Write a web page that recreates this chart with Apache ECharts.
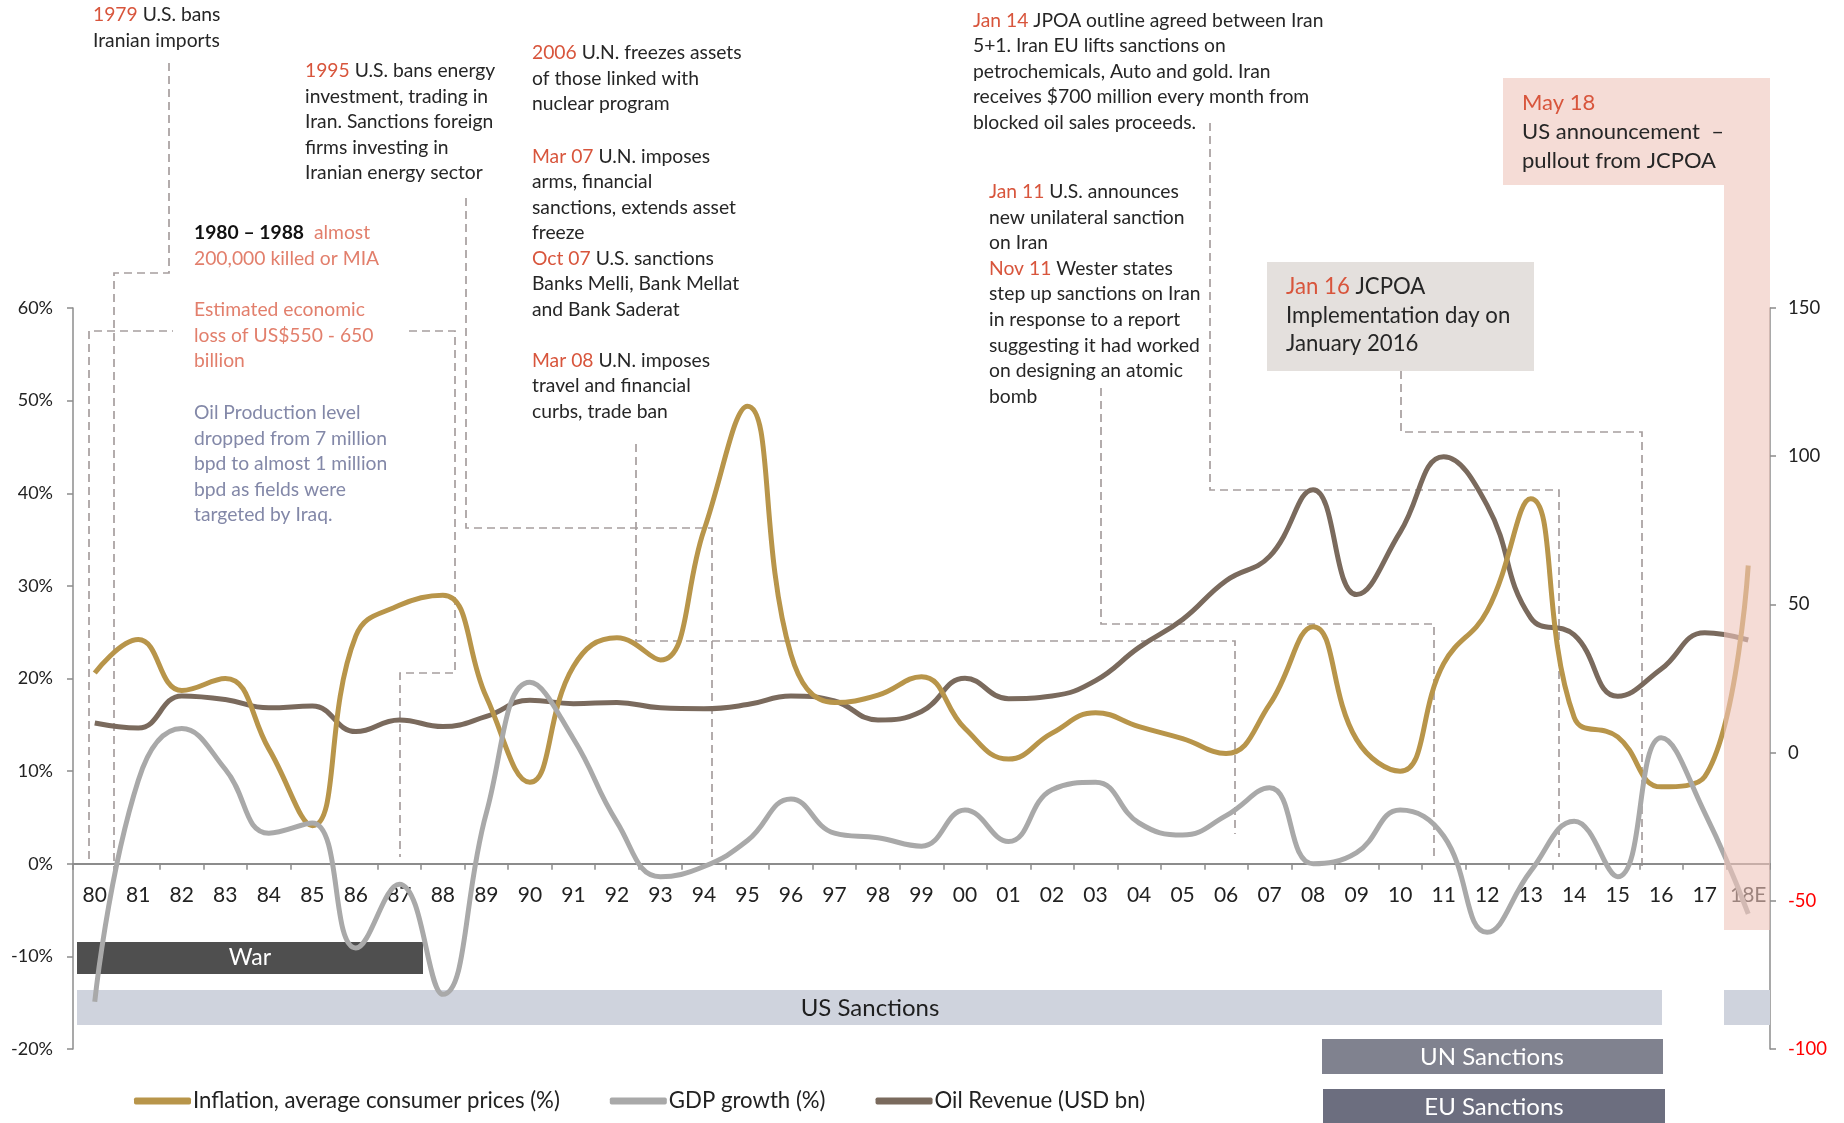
<!DOCTYPE html>
<html><head><meta charset="utf-8">
<script src="https://cdn.jsdelivr.net/npm/echarts@6/dist/echarts.min.js"></script>
<style>html,body{margin:0;padding:0;background:#fff}#c{width:1844px;height:1123px}</style>
</head><body><div id="c"></div>
<script>
// ---- data ----
const categories = ['80','81','82','83','84','85','86','87','88','89','90','91','92','93','94','95','96','97','98','99',
  '00','01','02','03','04','05','06','07','08','09','10','11','12','13','14','15','16','17','18E'];
const inflation = [20.6,24.2,18.7,20.0,12.4,4.1,24.6,27.9,29.0,18.0,
  8.8,21.3,24.4,22.0,36.0,49.4,22.6,17.4,18.2,20.2,
  14.6,11.3,14.1,16.3,14.8,13.5,11.9,17.2,25.6,13.4,
  10.0,21.6,27.3,39.4,15.8,13.7,8.3,9.4,32.2];
const gdpGrowth = [-14.9,9.0,14.6,10.2,3.3,4.4,-9.1,-2.2,-14.1,5.5,
  19.6,13.5,4.5,-1.4,-0.3,2.5,7.0,3.3,2.8,1.9,
  5.8,2.4,8.0,8.8,4.4,3.1,5.2,8.2,0.0,1.2,
  5.8,3.0,-7.4,-0.8,4.6,-1.4,13.6,5.5,-5.4];
const oilRevenue = [10.0,8.3,19.1,17.9,15.1,15.7,7.1,11.0,8.8,12.2,
  17.7,16.5,16.9,15.1,14.8,16.2,19.1,17.4,11.0,13.9,
  25.1,18.2,19.1,24.3,35.5,44.9,58.0,66.2,88.7,53.3,
  74.4,99.8,83.4,45.5,39.7,19.0,28.2,40.4,38.0];
const leftAxisTicks = {min:-20, max:60, interval:10};
const rightAxisTicks = {min:-100, max:150, interval:50};
const seriesNames = ['Inflation, average consumer prices (%)','GDP growth (%)','Oil Revenue (USD bn)'];

// ---- styles ----
const FONT = 'Lato, "Open Sans", sans-serif';
const RED = '#d8553c', SALMON = '#e27f6c', SLATE = '#8388a8', DARK = '#262626';
const AXIS = '#8c8c8c', DASH = '#a69e9e';
const GRID = {left:73, right:74, top:308, bottom:74};
const PLOT_H = 1123 - GRID.top - GRID.bottom;
// distance from the bottom of the grid up to the zero line of the left axis
const ZERO_OFFSET = -PLOT_H * (0 - leftAxisTicks.min) / (leftAxisTicks.max - leftAxisTicks.min);

function txt(x, y, text, o) {
  o = o || {};
  const fs = o.fontSize || 19.3, lh = o.lineHeight || 25.6;
  return {type:'text', x:x, y:y, z:o.z || 10, silent:true,
    style:{text:text, fill:o.fill || DARK, fontSize:fs, fontFamily:FONT, fontWeight:o.fontWeight || 'normal',
      lineHeight:lh, align:o.align || 'left', textAlign:o.align || 'left',
      verticalAlign:o.valign || 'top', textVerticalAlign:o.valign || 'top',
      rich:{
        r:{fill:RED, fontSize:fs, fontFamily:FONT, lineHeight:lh},
        s:{fill:SALMON, fontSize:fs, fontFamily:FONT, lineHeight:lh},
        b:{fill:'#111', fontSize:fs, fontFamily:FONT, fontWeight:'bold', lineHeight:lh}
      }}};
}
function dash(points) {
  return {type:'polyline', z:0, silent:true, shape:{points:points},
    style:{stroke:DASH, lineWidth:1.7, lineDash:[8,5], fill:null}};
}
function rect(x, y, w, h, fill, z) {
  return {type:'rect', z:z || 1, silent:true, shape:{x:x, y:y, width:w, height:h}, style:{fill:fill}};
}

const graphics = [
  dash([[169,63],[169,273],[114,273],[114,874]]),
  dash([[89,859],[89,331],[173,331]]),
  dash([[409,331],[455,331],[455,673],[400,673],[400,857]]),
  dash([[466,198],[466,528],[712,528],[712,862]]),
  dash([[636,444],[636,641],[1235,641],[1235,834]]),
  dash([[1101,388],[1101,624],[1434,624],[1434,858]]),
  dash([[1210,123],[1210,490],[1559,490],[1559,857]]),
  dash([[1401,371],[1401,432],[1642,432],[1642,866]]),

  txt(93, 2, '{r|1979} U.S. bans\nIranian imports'),
  txt(305, 58, '{r|1995} U.S. bans energy\ninvestment, trading in\nIran. Sanctions foreign\nfirms investing in\nIranian energy sector'),
  txt(194, 220, '{b|1980 – 1988}  {s|almost}\n{s|200,000 killed or MIA}'),
  txt(194, 297, 'Estimated economic\nloss of US$550 - 650\nbillion', {fill:SALMON}),
  txt(194, 400, 'Oil Production level\ndropped from 7 million\nbpd to almost 1 million\nbpd as fields were\ntargeted by Iraq.', {fill:SLATE}),
  txt(532, 40, '{r|2006} U.N. freezes assets\nof those linked with\nnuclear program'),
  txt(532, 144, '{r|Mar 07} U.N. imposes\narms, financial\nsanctions, extends asset\nfreeze\n{r|Oct 07} U.S. sanctions\nBanks Melli, Bank Mellat\nand Bank Saderat', {lineHeight:25.5}),
  txt(532, 348, '{r|Mar 08} U.N. imposes\ntravel and financial\ncurbs, trade ban', {lineHeight:25.5}),
  txt(973, 8, '{r|Jan 14} JPOA outline agreed between Iran\n5+1. Iran EU lifts sanctions on\npetrochemicals, Auto and gold. Iran\nreceives $700 million every month from\nblocked oil sales proceeds.', {lineHeight:25.5}),
  txt(989, 179, '{r|Jan 11} U.S. announces\nnew unilateral sanction\non Iran\n{r|Nov 11} Wester states\nstep up sanctions on Iran\nin response to a report\nsuggesting it had worked\non designing an atomic\nbomb', {lineHeight:25.6}),

  rect(1267, 262, 267, 109, '#e4e0dd', 1),
  txt(1286, 273, '{r|Jan 16} JCPOA\nImplementation day on\nJanuary 2016', {fontSize:22.2, lineHeight:28.5}),

  rect(77, 942, 346, 32, '#4f4f4f', 1),
  txt(250, 958, 'War', {fill:'#fff', fontSize:23, align:'center', valign:'middle'}),
  rect(77, 990, 1585, 35, '#cfd3dd', 1),
  rect(1724, 990, 46, 35, '#cfd3dd', 1),
  txt(870, 1008, 'US Sanctions', {fill:'#1e1e1e', fontSize:24, align:'center', valign:'middle'}),
  rect(1322, 1039, 341, 35, '#80828f', 1),
  txt(1492, 1057, 'UN Sanctions', {fill:'#fff', fontSize:24, align:'center', valign:'middle'}),
  rect(1323, 1089, 342, 34, '#6c6e7f', 1),
  txt(1494, 1107, 'EU Sanctions', {fill:'#fff', fontSize:24, align:'center', valign:'middle'}),

  {type:'polygon', z:50, silent:true,
    shape:{points:[[1503,78],[1770,78],[1770,930],[1724,930],[1724,185],[1503,185]]},
    style:{fill:'rgba(238,196,186,0.6)'}},
  txt(1522, 88, '{r|May 18}\nUS announcement  –\npullout from JCPOA', {fontSize:22, lineHeight:29.2, z:60})
];

const chart = echarts.init(document.getElementById('c'), null, {renderer:'canvas'});
chart.setOption({
  animation:false,
  backgroundColor:'#fff',
  textStyle:{fontFamily:FONT},
  grid:{left:GRID.left, right:GRID.right, top:GRID.top, bottom:GRID.bottom, containLabel:false},
  legend:{
    data:seriesNames, left:129, top:1085, icon:'roundRect', itemWidth:57, itemHeight:7, itemGap:50,
    textStyle:{fontSize:22.2, fontFamily:FONT, color:'#222', padding:[0,0,0,-3]}
  },
  xAxis:{
    type:'category', data:categories, boundaryGap:true, position:'bottom', offset:ZERO_OFFSET,
    axisLine:{onZero:false, lineStyle:{color:AXIS, width:2}},
    axisTick:{show:true, interval:0, length:6, lineStyle:{color:AXIS, width:1.5}},
    axisLabel:{interval:0, fontSize:21, color:'#222', margin:21, fontFamily:FONT},
    splitLine:{show:false}
  },
  yAxis:[
    {type:'value', position:'left', min:leftAxisTicks.min, max:leftAxisTicks.max, interval:leftAxisTicks.interval,
      axisLine:{show:true, lineStyle:{color:AXIS, width:1.5}},
      axisTick:{show:true, length:6, lineStyle:{color:AXIS, width:1.5}},
      axisLabel:{formatter:'{value}%', fontSize:18, color:'#222', margin:20, fontFamily:FONT},
      splitLine:{show:false}},
    {type:'value', position:'right', min:rightAxisTicks.min, max:rightAxisTicks.max, interval:rightAxisTicks.interval,
      axisLine:{show:true, lineStyle:{color:AXIS, width:1.5}},
      axisTick:{show:true, length:6, lineStyle:{color:AXIS, width:1.5}},
      axisLabel:{fontSize:18.5, color:'#222', margin:18, fontFamily:FONT,
        formatter:function(v){ return v < 0 ? '{n|' + v + '}' : String(v); },
        rich:{n:{color:'#ff0000', fontSize:18.5, fontFamily:FONT}}},
      splitLine:{show:false}}
  ],
  series:[
    {name:seriesNames[0], type:'line', data:inflation, yAxisIndex:0, smooth:0.45, symbol:'none', z:3,
      lineStyle:{width:5, color:'#b8954a'}, itemStyle:{color:'#b8954a'}},
    {name:seriesNames[1], type:'line', data:gdpGrowth, yAxisIndex:0, smooth:0.45, symbol:'none', z:4,
      lineStyle:{width:5, color:'#a9a9a9'}, itemStyle:{color:'#a9a9a9'}},
    {name:seriesNames[2], type:'line', data:oilRevenue, yAxisIndex:1, smooth:0.45, symbol:'none', z:2,
      lineStyle:{width:5, color:'#7a6a5d'}, itemStyle:{color:'#7a6a5d'}}
  ],
  graphic:{elements:graphics}
});
</script></body></html>
